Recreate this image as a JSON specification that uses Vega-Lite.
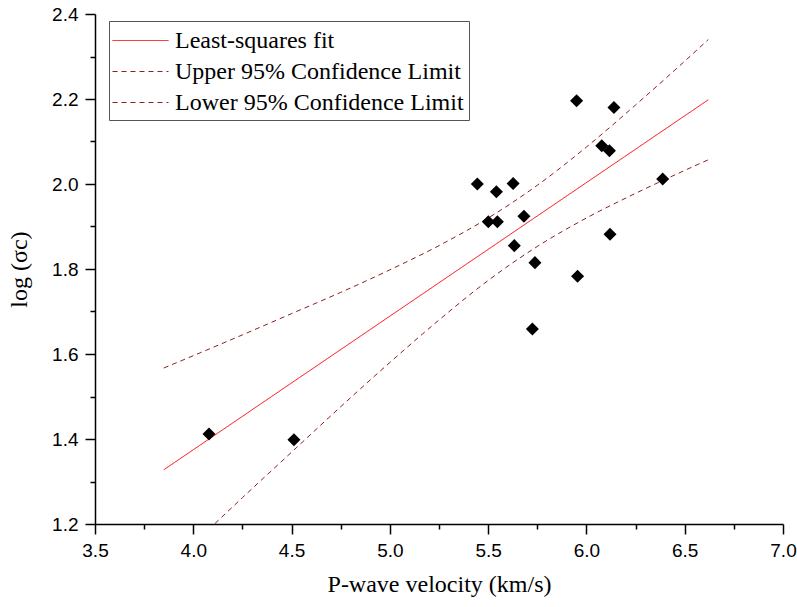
{
  "$schema": "https://vega.github.io/schema/vega-lite/v6.json",
  "width": 688,
  "height": 510,
  "autosize": {"type": "none"},
  "padding": {"left": 95, "top": 14, "right": 14, "bottom": 83},
  "background": "white",
  "config": {"view": {"stroke": null}, "font": "Liberation Serif"},
  "datasets": {
    "points": [
      {"v": 4.08, "s": 1.412},
      {"v": 4.512, "s": 1.398},
      {"v": 5.95, "s": 2.196},
      {"v": 6.14, "s": 2.18},
      {"v": 6.078, "s": 2.09},
      {"v": 6.117, "s": 2.078},
      {"v": 6.388, "s": 2.012},
      {"v": 5.445, "s": 2.0},
      {"v": 5.542, "s": 1.982},
      {"v": 5.627, "s": 2.001},
      {"v": 5.501, "s": 1.911},
      {"v": 5.547, "s": 1.911},
      {"v": 5.682, "s": 1.924},
      {"v": 5.633, "s": 1.855},
      {"v": 5.738, "s": 1.815},
      {"v": 6.12, "s": 1.882},
      {"v": 5.955, "s": 1.783},
      {"v": 5.725, "s": 1.659}
    ],
    "lines": [
      {"series": "Least-squares fit", "x": 3.85, "y": 1.3276},
      {"series": "Least-squares fit", "x": 6.62, "y": 2.1982},
      {"series": "Upper 95% Confidence Limit", "x": 3.85, "y": 1.567},
      {"series": "Upper 95% Confidence Limit", "x": 4.0, "y": 1.596},
      {"series": "Upper 95% Confidence Limit", "x": 4.25, "y": 1.645},
      {"series": "Upper 95% Confidence Limit", "x": 4.5, "y": 1.695},
      {"series": "Upper 95% Confidence Limit", "x": 4.75, "y": 1.745},
      {"series": "Upper 95% Confidence Limit", "x": 5.0, "y": 1.798},
      {"series": "Upper 95% Confidence Limit", "x": 5.25, "y": 1.855},
      {"series": "Upper 95% Confidence Limit", "x": 5.5, "y": 1.92},
      {"series": "Upper 95% Confidence Limit", "x": 5.75, "y": 1.997},
      {"series": "Upper 95% Confidence Limit", "x": 6.0, "y": 2.087},
      {"series": "Upper 95% Confidence Limit", "x": 6.25, "y": 2.186},
      {"series": "Upper 95% Confidence Limit", "x": 6.5, "y": 2.289},
      {"series": "Upper 95% Confidence Limit", "x": 6.62, "y": 2.34},
      {"series": "Lower 95% Confidence Limit", "x": 4.11, "y": 1.201},
      {"series": "Lower 95% Confidence Limit", "x": 4.25, "y": 1.262},
      {"series": "Lower 95% Confidence Limit", "x": 4.5, "y": 1.369},
      {"series": "Lower 95% Confidence Limit", "x": 4.75, "y": 1.476},
      {"series": "Lower 95% Confidence Limit", "x": 5.0, "y": 1.58},
      {"series": "Lower 95% Confidence Limit", "x": 5.25, "y": 1.68},
      {"series": "Lower 95% Confidence Limit", "x": 5.5, "y": 1.773},
      {"series": "Lower 95% Confidence Limit", "x": 5.75, "y": 1.853},
      {"series": "Lower 95% Confidence Limit", "x": 6.0, "y": 1.92},
      {"series": "Lower 95% Confidence Limit", "x": 6.25, "y": 1.978},
      {"series": "Lower 95% Confidence Limit", "x": 6.5, "y": 2.032},
      {"series": "Lower 95% Confidence Limit", "x": 6.62, "y": 2.057}
    ]
  },
  "layer": [
    {
      "data": {"name": "lines"},
      "mark": {"type": "line", "strokeWidth": 1, "interpolate": "monotone", "clip": true},
      "encoding": {
        "x": {
          "field": "x", "type": "quantitative",
          "scale": {"domain": [3.5, 7.0], "nice": false, "zero": false},
          "axis": {
            "values": [3.5, 3.75, 4.0, 4.25, 4.5, 4.75, 5.0, 5.25, 5.5, 5.75, 6.0, 6.25, 6.5, 6.75, 7.0],
            "labelExpr": "abs(datum.value*2 - round(datum.value*2)) < 0.001 ? format(datum.value, '.1f') : ''",
            "tickSize": {"condition": {"test": "abs(datum.value*2 - round(datum.value*2)) < 0.001", "value": 10}, "value": 5},
            "grid": false,
            "domainColor": "black", "domainWidth": 1.5,
            "tickColor": "black", "tickWidth": 1.5,
            "labelFont": "Liberation Sans", "labelFontSize": 19, "labelColor": "black", "labelPadding": 7,
            "labelFlush": false, "labelOverlap": false,
            "title": "P-wave velocity (km/s)",
            "titleFont": "Liberation Serif", "titleFontSize": 24, "titleFontWeight": "normal", "titleColor": "black",
            "titlePadding": 12
          }
        },
        "y": {
          "field": "y", "type": "quantitative",
          "scale": {"domain": [1.2, 2.4], "nice": false, "zero": false},
          "axis": {
            "values": [1.2, 1.3, 1.4, 1.5, 1.6, 1.7, 1.8, 1.9, 2.0, 2.1, 2.2, 2.3, 2.4],
            "labelExpr": "abs(datum.value*5 - round(datum.value*5)) < 0.001 ? format(datum.value, '.1f') : ''",
            "tickSize": {"condition": {"test": "abs(datum.value*5 - round(datum.value*5)) < 0.001", "value": 10}, "value": 5},
            "grid": false,
            "domainColor": "black", "domainWidth": 1.5,
            "tickColor": "black", "tickWidth": 1.5,
            "labelFont": "Liberation Sans", "labelFontSize": 19, "labelColor": "black", "labelPadding": 7,
            "labelFlush": false, "labelOverlap": false,
            "title": "log (σc)",
            "titleFont": "Liberation Serif", "titleFontSize": 24, "titleFontWeight": "normal", "titleColor": "black",
            "titlePadding": 20
          }
        },
        "color": {
          "field": "series", "type": "nominal",
          "scale": {
            "domain": ["Least-squares fit", "Upper 95% Confidence Limit", "Lower 95% Confidence Limit"],
            "range": ["#ff0000", "#8b2020", "#8b2020"]
          },
          "legend": {
            "title": null, "orient": "none", "legendX": 14, "legendY": 7,
            "symbolType": "M-2,0H2", "symbolSize": 784, "symbolStrokeWidth": 1, "symbolOffset": 12,
            "labelFont": "Liberation Serif", "labelFontSize": 24, "labelColor": "black", "labelLimit": 0,
            "labelOffset": 20, "rowPadding": 4,
            "strokeColor": "#555", "fillColor": "white", "padding": 5
          }
        },
        "strokeDash": {
          "field": "series", "type": "nominal",
          "scale": {
            "domain": ["Least-squares fit", "Upper 95% Confidence Limit", "Lower 95% Confidence Limit"],
            "range": [[1, 0], [5, 4], [5, 4]]
          },
          "legend": {
            "title": null, "orient": "none", "legendX": 14, "legendY": 7,
            "symbolType": "M-2,0H2", "symbolSize": 784, "symbolStrokeWidth": 1, "symbolOffset": 12,
            "labelFont": "Liberation Serif", "labelFontSize": 24, "labelColor": "black", "labelLimit": 0,
            "labelOffset": 20, "rowPadding": 4,
            "strokeColor": "#555", "fillColor": "white", "padding": 5
          }
        }
      }
    },
    {
      "data": {"name": "points"},
      "mark": {"type": "point", "shape": "diamond", "filled": true, "color": "black", "size": 170, "opacity": 1},
      "encoding": {
        "x": {"field": "v", "type": "quantitative"},
        "y": {"field": "s", "type": "quantitative"}
      }
    }
  ]
}
